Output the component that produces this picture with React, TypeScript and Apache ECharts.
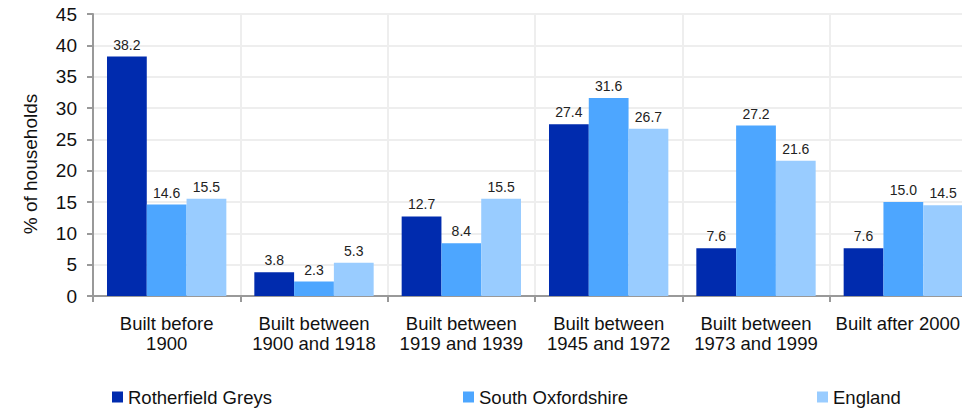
import React, { useEffect, useRef } from "react";
import * as echarts from "echarts";

const categories = [
  "Built before\n1900",
  "Built between\n1900 and 1918",
  "Built between\n1919 and 1939",
  "Built between\n1945 and 1972",
  "Built between\n1973 and 1999",
  "Built after 2000",
];
const seriesNames = ["Rotherfield Greys", "South Oxfordshire", "England"];
const rotherfield = [38.2, 3.8, 12.7, 27.4, 7.6, 7.6];
const southOxon = [14.6, 2.3, 8.4, 31.6, 27.2, 15.0];
const england = [15.5, 5.3, 15.5, 26.7, 21.6, 14.5];
const colors = ["#002BAE", "#4DA6FF", "#99CCFF"];
const yTicks = { min: 0, max: 45, interval: 5 };

export default function App() {
  const ref = useRef<HTMLDivElement>(null);
  useEffect(() => {
    document.body.style.margin = "0";
    const chart = echarts.init(ref.current!, null, { renderer: "svg" });
    const font = "Liberation Sans, Arial, sans-serif";
    const data = [rotherfield, southOxon, england];
    const legendLefts = [112, 463, 817];
    const lastIdx = categories.length - 1;
    chart.setOption({
      animation: false,
      textStyle: { fontFamily: font },
      grid: { left: 93, top: 14, height: 282, width: 884, containLabel: false, outerBoundsMode: "none" },
      xAxis: {
        type: "category",
        data: categories,
        axisLine: { lineStyle: { color: "#999999", width: 2 } },
        axisTick: { show: true, length: 6, lineStyle: { color: "#999999", width: 2 } },
        axisLabel: {
          color: "#111111",
          fontSize: 18.5,
          lineHeight: 20,
          margin: 17,
          interval: 0,
          fontFamily: font,
          formatter: (v: string, idx: number) => (idx === lastIdx ? `{last|${v}}` : v),
          rich: {
            last: { fontSize: 18.5, lineHeight: 20, color: "#111111", fontFamily: font, padding: [0, 11, 0, 0] },
          },
        },
        splitLine: { show: true, lineStyle: { color: "#eeeeee", width: 2 } },
      },
      yAxis: {
        type: "value",
        min: yTicks.min,
        max: yTicks.max,
        interval: yTicks.interval,
        axisLine: { show: true, lineStyle: { color: "#999999", width: 2 } },
        axisTick: { show: true, length: 6, lineStyle: { color: "#999999", width: 2 } },
        axisLabel: { color: "#111111", fontSize: 19, margin: 16, fontFamily: font },
        splitLine: { show: true, lineStyle: { color: "#eeeeee", width: 2 } },
      },
      legend: seriesNames.map((n, i) => ({
        data: [n],
        left: legendLefts[i],
        top: 387,
        padding: 0,
        itemWidth: 11,
        itemHeight: 11,
        itemGap: 8,
        icon: "rect",
        textStyle: { color: "#111111", fontSize: 18.5, lineHeight: 20, fontFamily: font },
      })),
      graphic: [
        {
          type: "text",
          x: 30,
          y: 164,
          rotation: Math.PI / 2,
          style: {
            text: "% of households",
            fontSize: 19,
            fontFamily: font,
            fill: "#111111",
            textAlign: "center",
            textVerticalAlign: "middle",
          },
        },
      ],
      series: seriesNames.map((n, i) => ({
        name: n,
        type: "bar",
        data: data[i],
        barGap: "0%",
        barCategoryGap: "19%",
        itemStyle: { color: colors[i] },
        label: {
          show: true,
          position: "top",
          distance: 5,
          color: "#222222",
          fontSize: 14,
          fontFamily: font,
          formatter: (p: any) => Number(p.value).toFixed(1),
        },
      })),
    });
    return () => chart.dispose();
  }, []);
  return <div ref={ref} style={{ width: 962, height: 408 }} />;
}
